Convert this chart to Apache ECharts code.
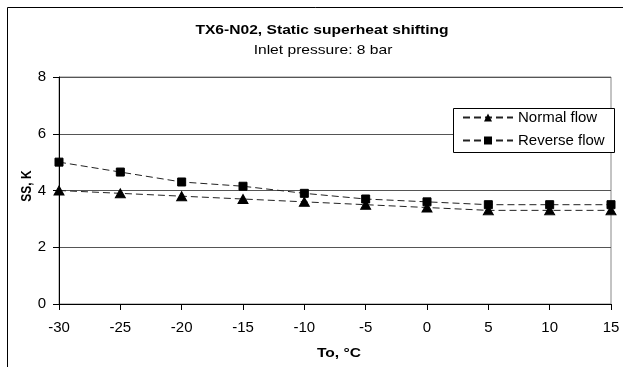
<!DOCTYPE html>
<html><head><meta charset="utf-8">
<script src="https://cdn.jsdelivr.net/npm/echarts@6/dist/echarts.min.js"></script>
<style>html,body{margin:0;padding:0;background:#fff}#c{width:623px;height:367px}</style>
</head><body><div id="c"></div>
<script>
const temps = [-30, -25, -20, -15, -10, -5, 0, 5, 10, 15];
const normalFlow = [4.0, 3.9, 3.8, 3.7, 3.6, 3.5, 3.4, 3.3, 3.3, 3.3];
const reverseFlow = [5.0, 4.65, 4.3, 4.15, 3.9, 3.7, 3.6, 3.5, 3.5, 3.5];
const titleText = 'TX6-N02, Static superheat shifting';
const subText = 'Inlet pressure: 8 bar';
const xName = 'To, °C';
const yName = 'SS, K';

const ff = 'Arial, "Liberation Sans", sans-serif';
const chart = echarts.init(document.getElementById('c'), null, {renderer: 'canvas'});
const pair = (ys) => temps.map((t, i) => [t, ys[i]]);
const stretched = (text, x, y, font, extra) => Object.assign({
  type: 'text', x: x, y: y, scaleX: 1.2, z: 10,
  style: {text: text, font: font, fill: '#000', align: 'center', verticalAlign: 'middle'}
}, extra || {});
chart.setOption({
  animation: false,
  backgroundColor: '#fff',
  graphic: [
    {type: 'rect', shape: {x: 7.5, y: 7.5, width: 700, height: 400},
     style: {fill: 'none', stroke: '#000', lineWidth: 1}, z: -10},
    stretched(titleText, 322, 30, 'bold 13px ' + ff),
    stretched(subText, 323, 50, '13px ' + ff),
    stretched(xName, 339, 353, 'bold 13px ' + ff),
    {type: 'text', x: 27, y: 186, rotation: Math.PI / 2, scaleY: 1.2, z: 10,
     style: {text: yName, font: 'bold 12px ' + ff, fill: '#000', align: 'center', verticalAlign: 'middle'}},
    {type: 'rect', shape: {x: 453.5, y: 108.5, width: 161, height: 44},
     style: {fill: '#fff', stroke: '#000', lineWidth: 1}, z: 3}
  ],
  grid: {left: 59, right: 12, top: 77, bottom: 63, show: true, borderColor: '#888', borderWidth: 1},
  legend: {
    left: 462, top: 110, orient: 'vertical', z: 5,
    padding: 0, itemGap: 8, itemWidth: 50, itemHeight: 10,
    textStyle: {fontFamily: ff, fontSize: 15, color: '#000'},
    data: ['Normal flow', 'Reverse flow']
  },
  xAxis: {
    type: 'value', min: -30, max: 15, interval: 5,
    axisLine: {onZero: false, lineStyle: {color: '#000'}},
    axisTick: {show: true, length: 6, inside: false, lineStyle: {color: '#000'}},
    axisLabel: {fontFamily: ff, fontSize: 15, color: '#000', margin: 16},
    splitLine: {show: false}
  },
  yAxis: {
    type: 'value', min: 0, max: 8, interval: 2,
    axisLine: {show: true, onZero: false, lineStyle: {color: '#000'}},
    axisTick: {show: true, length: 6, lineStyle: {color: '#000'}},
    axisLabel: {fontFamily: ff, fontSize: 15, color: '#000', margin: 13},
    splitLine: {show: true, lineStyle: {color: '#555', width: 1}}
  },
  series: [
    {
      name: 'Normal flow', type: 'line', data: pair(normalFlow),
      symbol: 'triangle', symbolSize: [10, 9],
      lineStyle: {color: '#222', width: 1, type: [7, 4]},
      itemStyle: {color: '#000', borderColor: '#000'}
    },
    {
      name: 'Reverse flow', type: 'line', data: pair(reverseFlow),
      symbol: 'rect', symbolSize: 8,
      lineStyle: {color: '#222', width: 1, type: [7, 4]},
      itemStyle: {color: '#000', borderColor: '#000'}
    }
  ]
});
</script></body></html>
